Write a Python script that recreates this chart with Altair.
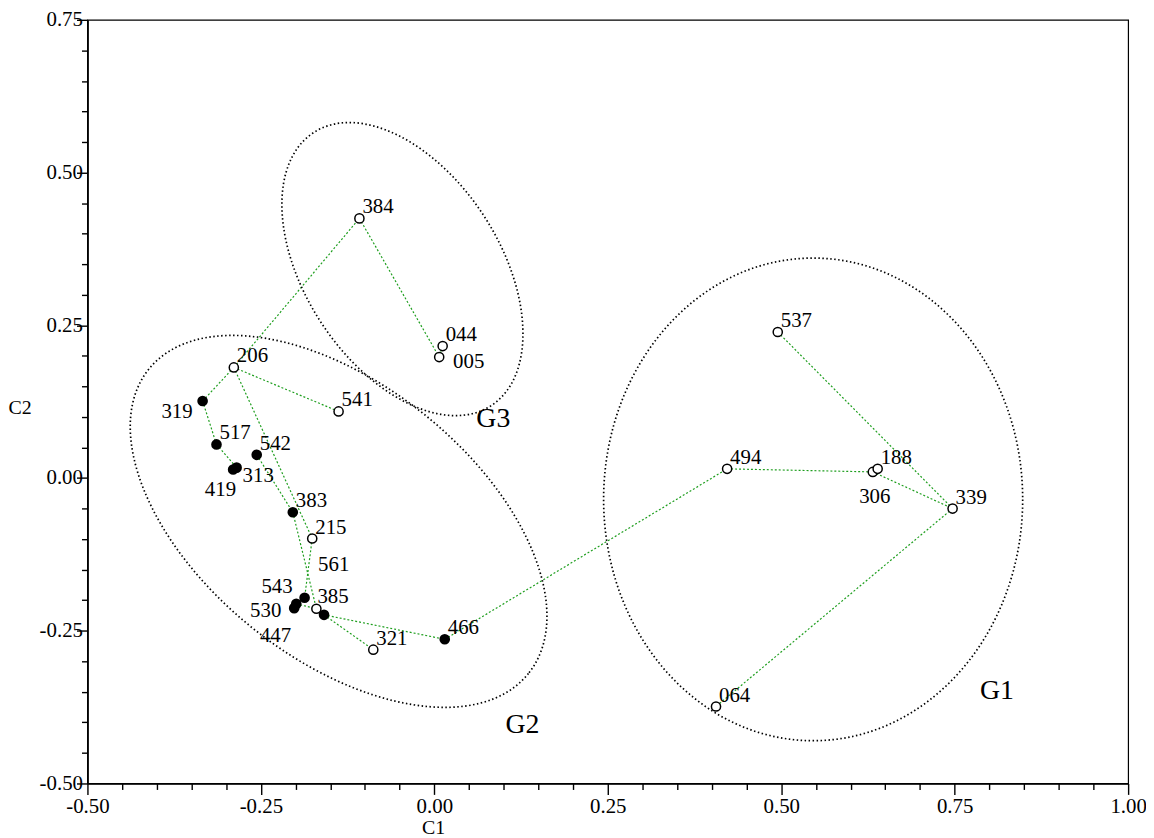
import altair as alt
import pandas as pd

# ---- data ----
ids = ["384", "044", "005", "206", "541", "319", "517", "542", "313", "419",
       "383", "215", "543", "530", "447", "385", "561", "466", "321", "494",
       "306", "188", "339", "537", "064"]
c1 = [-0.108, 0.012, 0.007, -0.289, -0.138, -0.334, -0.314, -0.256, -0.285, -0.290,
      -0.204, -0.176, -0.187, -0.199, -0.202, -0.170, -0.159, 0.015, -0.088, 0.422,
      0.632, 0.639, 0.747, 0.495, 0.406]
c2 = [0.425, 0.216, 0.198, 0.181, 0.109, 0.126, 0.055, 0.038, 0.017, 0.014,
      -0.056, -0.099, -0.196, -0.206, -0.213, -0.214, -0.224, -0.264, -0.281, 0.015,
      0.010, 0.015, -0.050, 0.239, -0.374]
filled = [False, False, False, False, False, True, True, True, True, True,
          True, False, True, True, True, False, True, True, False, False,
          False, False, False, False, False]

edges = [("206", "384"), ("384", "005"), ("005", "044"), ("206", "541"),
         ("206", "319"), ("319", "517"), ("517", "313"), ("313", "419"),
         ("206", "215"), ("215", "543"), ("543", "530"), ("530", "447"),
         ("530", "385"), ("542", "383"), ("383", "385"), ("385", "561"),
         ("561", "466"), ("561", "321"), ("466", "494"), ("494", "306"),
         ("306", "188"), ("306", "339"), ("339", "537"), ("339", "064")]

groups = ["G1", "G2", "G3"]
group_c1 = [0.546, -0.138, -0.046]
group_c2 = [-0.035, -0.071, 0.342]
group_label_c1 = [0.811, 0.127, 0.085]
group_label_c2 = [-0.348, -0.405, 0.097]

x_ticks = [round(-0.5 + 0.05 * i, 2) for i in range(31)]
y_ticks = [round(-0.5 + 0.05 * i, 2) for i in range(26)]

# ---- styling / placement (pixels) ----
# ellipse outline: semi-axis along x, semi-axis along y (before rotation), rotation (deg)
ellipse_style = {"G1": (211, 243, 0), "G2": (245, 138, 38.7), "G3": (164, 98, 57)}
# label offsets: dx, dy (baseline), align
default_place = (3, -5, "left")
label_place = {
    "005": (14, 11, "left"),
    "319": (-10, 17, "right"),
    "313": (6, 14, "left"),
    "419": (3, 27, "right"),
    "543": (-12, -5, "right"),
    "530": (-15, 13, "right"),
    "447": (-3, 34, "right"),
    "306": (2, 31, "center"),
    "561": (-6, -44, "left"),
    "385": (1, -6, "left"),
}

FONT = "Liberation Serif"

pts = pd.DataFrame({"id": ids, "c1": c1, "c2": c2, "filled": filled})
pos = {i: (x, y) for i, x, y in zip(ids, c1, c2)}
edf = pd.DataFrame({
    "x": [pos[a][0] for a, b in edges], "y": [pos[a][1] for a, b in edges],
    "x2": [pos[b][0] for a, b in edges], "y2": [pos[b][1] for a, b in edges],
})

major = "abs(datum.value*4 - round(datum.value*4)) < 0.001"
lab_expr = (f"{major} ? (datum.value < -0.0001 ? '-' : '') + "
            "format(abs(datum.value), '.2f') : ''")

common_axis = dict(
    grid=False, domainColor="black", domainWidth=1.8, tickColor="black",
    tickWidth=1.4, labelFont=FONT, labelFontSize=21, labelColor="black",
    titleFont=FONT, titleFontSize=20, titleFontWeight="normal", titleColor="black",
    labelExpr=lab_expr, labelOverlap=False, labelBound=False,
    tickSize={"condition": {"test": major, "value": 11}, "value": 6},
)

xscale = alt.Scale(domain=[-0.5, 1.0], nice=False, zero=False)
yscale = alt.Scale(domain=[-0.5, 0.75], nice=False, zero=False)
xaxis = alt.Axis(values=x_ticks, labelFlush=False, labelPadding=1, title="C1",
                 titleX=348, titleY=50, titleBaseline="alphabetic", titleAlign="center",
                 **common_axis)
yaxis = alt.Axis(values=y_ticks, labelPadding=-6, title="C2", titleAngle=0,
                 titleX=-80, titleY=390, titleBaseline="middle", titleAlign="left",
                 labelBaseline="middle", **common_axis)

X = lambda f: alt.X(f, scale=xscale, axis=xaxis)
Y = lambda f: alt.Y(f, scale=yscale, axis=yaxis)

base_lines = alt.Chart(edf).mark_rule(
    color="#1e9e1e", strokeWidth=1.2, strokeDash=[2, 2]
).encode(x=X("x:Q"), y=Y("y:Q"), x2="x2:Q", y2="y2:Q")


def ellipse_path(r):
    k = 0.5523
    return (f"M 1 0 C 1 {k*r:.4f} {k:.4f} {r:.4f} 0 {r:.4f} "
            f"C {-k:.4f} {r:.4f} -1 {k*r:.4f} -1 0 "
            f"C -1 {-k*r:.4f} {-k:.4f} {-r:.4f} 0 {-r:.4f} "
            f"C {k:.4f} {-r:.4f} 1 {-k*r:.4f} 1 0 Z")


layers = [base_lines]
gdf = pd.DataFrame({"g": groups, "c1": group_c1, "c2": group_c2,
                    "lx": group_label_c1, "ly": group_label_c2})
for g in groups:
    a, b, ang = ellipse_style[g]
    layers.append(
        alt.Chart(gdf).transform_filter(alt.datum.g == g).mark_point(
            shape=ellipse_path(b / a), size=4 * a * a, angle=ang, filled=False,
            stroke="black", strokeWidth=1.7, strokeDash=[1.5, 2.5], opacity=1,
        ).encode(x=X("c1:Q"), y=Y("c2:Q"))
    )

layers.append(
    alt.Chart(pts).transform_filter("!datum.filled").mark_point(
        shape="circle", filled=True, fill="white", stroke="black",
        strokeWidth=1.5, size=85, opacity=1,
    ).encode(x=X("c1:Q"), y=Y("c2:Q"))
)
layers.append(
    alt.Chart(pts).transform_filter("datum.filled").mark_point(
        shape="circle", filled=True, color="black", size=115, opacity=1,
    ).encode(x=X("c1:Q"), y=Y("c2:Q"))
)

# point labels grouped by placement
placements = {}
for i in ids:
    placements.setdefault(label_place.get(i, default_place), []).append(i)
for (dx, dy, al), members in placements.items():
    layers.append(
        alt.Chart(pts).transform_filter(
            alt.FieldOneOfPredicate(field="id", oneOf=members)
        ).mark_text(
            font=FONT, fontSize=21, color="black", dx=dx, dy=dy, align=al,
            baseline="alphabetic",
        ).encode(x=X("c1:Q"), y=Y("c2:Q"), text="id:N")
    )

layers.append(
    alt.Chart(gdf).mark_text(
        font=FONT, fontSize=28, color="black", align="center", baseline="middle",
    ).encode(x=X("lx:Q"), y=Y("ly:Q"), text="g:N")
)

chart = alt.layer(*layers).properties(
    width=1048, height=769,
    autosize=alt.AutoSizeParams(type="none"),
    padding={"left": 80, "top": 9, "right": 18, "bottom": 52},
    background="white",
).configure_view(stroke="black", strokeWidth=1.2)

chart.save("out.html", embed_options={"renderer": "svg", "actions": False})
